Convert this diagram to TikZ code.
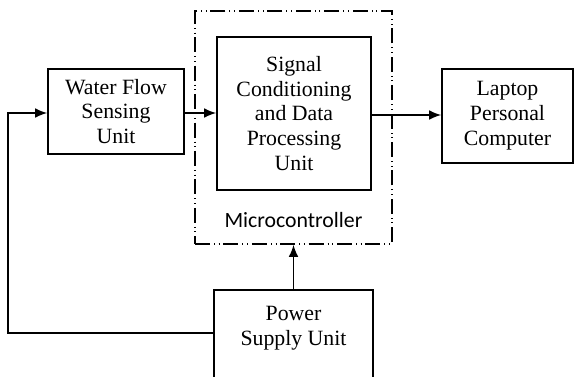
\documentclass[tikz,border=0pt]{standalone}
\usepackage{fontspec}
\setmainfont{Liberation Serif}
\newfontfamily\labelfont{Carlito}
\usepackage{tikz}
\usetikzlibrary{arrows.meta,positioning,calc}

\begin{document}
\begin{tikzpicture}[
  block/.style={draw, line width=1.1pt, align=center, font=\rmfamily\fontsize{15.5}{17.7}\selectfont},
  mcubox/.style={draw, line width=1.1pt, dash pattern=on 3.75mm off 1mm on 0.5pt off 1mm on 0.5pt off 1mm},
  flow/.style={-{Latex[length=3mm, width=2.4mm]}, line width=1.1pt}
]

\clip (0,0) rectangle (14.35,9.4);
\fill[white] (0,0) rectangle (14.35,9.4);

% Microcontroller boundary
\node[mcubox, minimum width=4.925cm, minimum height=5.825cm, label={[anchor=south, yshift=3mm, font=\labelfont\fontsize{15.5}{17.7}\selectfont]below:Microcontroller}] (mcu) at (7.3375, 6.2125) {};

% Blocks
\node[block, minimum width=3.4cm, minimum height=2.125cm] (sensor) at (2.9, 6.6125) {Water Flow\\Sensing\\Unit};
\node[block, minimum width=3.85cm, minimum height=3.825cm] (signal) at (7.35, 6.5625) {Signal\\Conditioning\\and Data\\Processing\\Unit};
\node[block, minimum width=3.275cm, minimum height=2.35cm] (laptop) at (12.6875, 6.5) {Laptop\\Personal\\Computer};
\node[block, minimum width=3.975cm, minimum height=2.6cm, anchor=north, label={[anchor=north, yshift=-3mm, font=\rmfamily\fontsize{15.5}{17.7}\selectfont, align=center]Power\\Supply Unit}] (power) at (7.3375, 2.175) {};

% Connections
\coordinate (fb) at (0.2, 6.575);
\draw[flow] (sensor.east |- 0,6.575) -- (signal.west |- 0,6.575);
\draw[flow] (signal.east |- 0,6.525) -- (laptop.west |- 0,6.525);
\draw[flow] (power.north) -- (mcu.south);
\draw[flow] (power.west |- 0,1.075) -| (fb) -- (sensor.west |- fb);

\end{tikzpicture}
\end{document}
